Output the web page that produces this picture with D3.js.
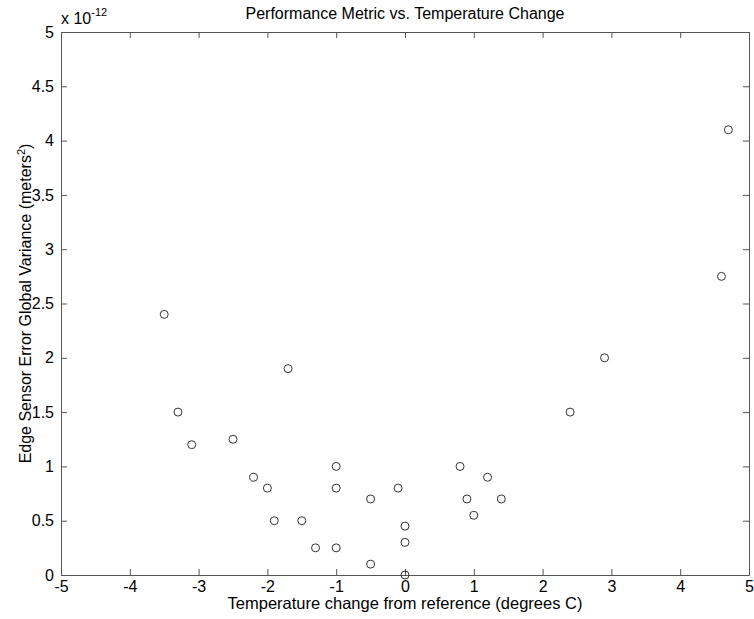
<!DOCTYPE html>
<head>
<meta charset="utf-8">
<title>Performance Metric vs. Temperature Change</title>
<script type="text/javascript" src="https://d3js.org/d3.v7.min.js"></script>
<style>
body { margin:0; background:#fff; }
svg text { font-family: "Liberation Sans", Arial, sans-serif; fill:#000; }
.axis path, .axis line { stroke:#555; }
</style>
</head>
<body>
<div id="container"></div>
<script>
//*******************
//data
//*******************
const tempChange = [-3.5, -3.3, -3.1, -2.5, -2.2, -2.0, -1.9, -1.7, -1.5, -1.3,
                    -1.0, -1.0, -1.0, -0.5, -0.5, -0.1, 0.0, 0.0, 0.0,
                    0.8, 0.9, 1.0, 1.2, 1.4, 2.4, 2.9, 4.6, 4.7];
// variance in units of 1e-12 m^2
const variance =   [2.4, 1.5, 1.2, 1.25, 0.9, 0.8, 0.5, 1.9, 0.5, 0.25,
                    1.0, 0.8, 0.25, 0.7, 0.1, 0.8, 0.45, 0.3, 0.0,
                    1.0, 0.7, 0.55, 0.9, 0.7, 1.5, 2.0, 2.75, 4.1];
const xTicks = [-5, -4, -3, -2, -1, 0, 1, 2, 3, 4, 5];
const yTicks = [0, 0.5, 1, 1.5, 2, 2.5, 3, 3.5, 4, 4.5, 5];

//*******************
//setup svg
//*******************
const W = 754, H = 619;
const pLeft = 61, pRight = 749, pTop = 32, pBottom = 575;

const svg = d3.select("#container").append("svg")
    .attr("width", W)
    .attr("height", H);

const xScale = d3.scaleLinear().domain([-5, 5]).range([pLeft, pRight]);
const yScale = d3.scaleLinear().domain([0, 5]).range([pBottom, pTop]);

// plain hyphen for negatives, like the original
const fmt = d => String(d);

//*******************
//draw axes (box, ticks inward)
//*******************
svg.append("g")
    .attr("class", "axis")
    .attr("transform", "translate(0," + pBottom + ")")
    .call(d3.axisBottom(xScale).tickValues(xTicks).tickSizeInner(-6).tickSizeOuter(0).tickPadding(6).tickFormat(fmt))
    .call(g => g.selectAll("text").style("font-size", "16px").attr("fill", "#000"));

svg.append("g")
    .attr("class", "axis")
    .attr("transform", "translate(0," + pTop + ")")
    .call(d3.axisTop(xScale).tickValues(xTicks).tickSizeInner(-6).tickSizeOuter(0).tickFormat(""));

svg.append("g")
    .attr("class", "axis")
    .attr("transform", "translate(" + pLeft + ",0)")
    .call(d3.axisLeft(yScale).tickValues(yTicks).tickSizeInner(-6).tickSizeOuter(0).tickPadding(7).tickFormat(fmt))
    .call(g => g.selectAll("text").style("font-size", "16px").attr("fill", "#000"));

svg.append("g")
    .attr("class", "axis")
    .attr("transform", "translate(" + pRight + ",0)")
    .call(d3.axisRight(yScale).tickValues(yTicks).tickSizeInner(-6).tickSizeOuter(0).tickFormat(""));

//*******************
//draw points
//*******************
const pts = tempChange.map((t, i) => ({x: t, y: variance[i]}));

svg.append("g")
    .selectAll("circle")
    .data(pts)
    .enter()
    .append("circle")
    .attr("cx", d => xScale(d.x))
    .attr("cy", d => yScale(d.y))
    .attr("r", 4)
    .attr("fill", "none")
    .attr("stroke", "#333")
    .attr("stroke-width", 1);

//*******************
//labels
//*******************
svg.append("text")
    .attr("x", (pLeft + pRight) / 2)
    .attr("y", 19)
    .attr("text-anchor", "middle")
    .style("font-size", "16px")
    .text("Performance Metric vs. Temperature Change");

svg.append("text")
    .attr("x", (pLeft + pRight) / 2)
    .attr("y", 609)
    .attr("text-anchor", "middle")
    .style("font-size", "16.5px")
    .text("Temperature change from reference (degrees C)");

const yl = svg.append("text")
    .attr("transform", "translate(31," + ((pTop + pBottom) / 2) + ") rotate(-90)")
    .attr("text-anchor", "middle")
    .style("font-size", "16px");
yl.append("tspan").text("Edge Sensor Error Global Variance (meters");
yl.append("tspan").attr("dy", -6).style("font-size", "11px").text("2");
yl.append("tspan").attr("dy", 6).text(")");

const ex = svg.append("text")
    .attr("x", pLeft)
    .attr("y", 24)
    .style("font-size", "16px");
ex.append("tspan").text("x 10");
ex.append("tspan").attr("dy", -8).style("font-size", "11px").text("-12");
</script>
</body>
